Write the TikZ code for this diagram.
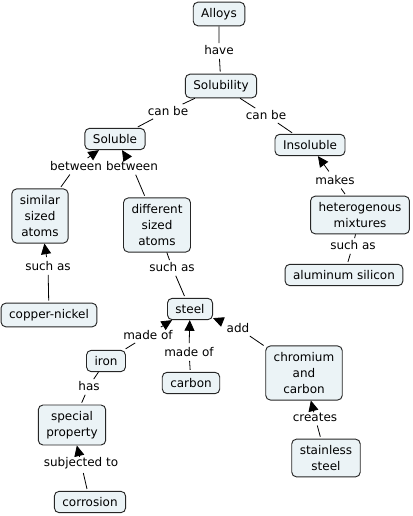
\documentclass[tikz,border=0pt]{standalone}
\usepackage{fontspec}
\setmainfont{DejaVu Sans}
\usetikzlibrary{arrows.meta}
\definecolor{conceptfill}{RGB}{235,243,246}
\begin{document}
\begin{tikzpicture}[x=0.75pt,y=-0.75pt,
    font=\fontsize{9}{12.3}\selectfont,
    concept/.style={draw=black!85,line width=0.7pt,fill=conceptfill,rounded corners=3.5pt,
      align=center,inner xsep=6pt,inner ysep=4.5pt},
    linkword/.style={inner sep=1.5pt},
    link/.style={line width=0.6pt,shorten <=1.5pt,shorten >=1.5pt},
    tolink/.style={link,-{Triangle[length=8pt,width=7.5pt]},shorten >=0pt}]
  \useasboundingbox (0,0) rectangle (412,516);
  % concepts
  \node[concept] (alloys) at (219,14) {Alloys};
  \node[concept] (solubility) at (221,86) {Solubility};
  \node[concept] (soluble) at (115,139) {Soluble};
  \node[concept] (insoluble) at (310,145) {Insoluble};
  \node[concept] (similar) at (40,216) {similar\\sized\\atoms};
  \node[concept] (different) at (157,225) {different\\sized\\atoms};
  \node[concept] (hetero) at (360,215) {heterogenous\\mixtures};
  \node[concept] (alusil) at (344,275) {aluminum silicon};
  \node[concept] (cuni) at (49,315) {copper-nickel};
  \node[concept] (steel) at (190,309) {steel};
  \node[concept] (iron) at (106,361) {iron};
  \node[concept] (carbon) at (191,383) {carbon};
  \node[concept] (chromium) at (304,373) {chromium\\and\\carbon};
  \node[concept] (special) at (72,425) {special\\property};
  \node[concept] (stainless) at (326,458) {stainless\\steel};
  \node[concept] (corrosion) at (90,502) {corrosion};
  % linking words
  \node[linkword] (have) at (219,50) {have};
  \node[linkword] (canbe1) at (168,111) {can be};
  \node[linkword] (canbe2) at (266,115) {can be};
  \node[linkword] (between1) at (76,166) {between};
  \node[linkword] (between2) at (132,166) {between};
  \node[linkword] (makes) at (335,180) {makes};
  \node[linkword] (suchas1) at (48,266) {such as};
  \node[linkword] (suchas2) at (172,267) {such as};
  \node[linkword] (suchas3) at (353,245) {such as};
  \node[linkword] (madeof1) at (148,335) {made of};
  \node[linkword] (madeof2) at (189,352) {made of};
  \node[linkword] (add) at (238,328) {add};
  \node[linkword] (has) at (89,386) {has};
  \node[linkword] (creates) at (315,417) {creates};
  \node[linkword] (subj) at (81,463) {subjected to};
  % plain links
  \begin{scope}[link]
    \draw (alloys) -- (have) -- (solubility);
    \draw (solubility) -- (canbe1) -- (soluble);
    \draw (solubility) -- (canbe2) -- (insoluble);
    \draw (hetero) -- (suchas3) -- (alusil);
    \draw (different) -- (suchas2) -- (steel);
    \draw (iron) -- (has) -- (special);
  \end{scope}
  % links with arrows
  \draw[link] (similar) -- (between1);
  \draw[tolink] (between1) -- (soluble);
  \draw[link] (different) -- (between2);
  \draw[tolink] (between2) -- (soluble);
  \draw[link] (hetero) -- (makes);
  \draw[tolink] (makes) -- (insoluble);
  \draw[link] (cuni) -- (suchas1);
  \draw[tolink] (suchas1) -- (similar);
  \draw[link] (iron) -- (madeof1);
  \draw[tolink] (madeof1) -- (steel);
  \draw[link] (carbon) -- (madeof2);
  \draw[tolink] (madeof2) -- (steel);
  \draw[link] (chromium) -- (add);
  \draw[tolink] (add) -- (steel);
  \draw[link] (stainless) -- (creates);
  \draw[tolink] (creates) -- (chromium);
  \draw[link] (corrosion) -- (subj);
  \draw[tolink] (subj) -- (special);
\end{tikzpicture}
\end{document}
